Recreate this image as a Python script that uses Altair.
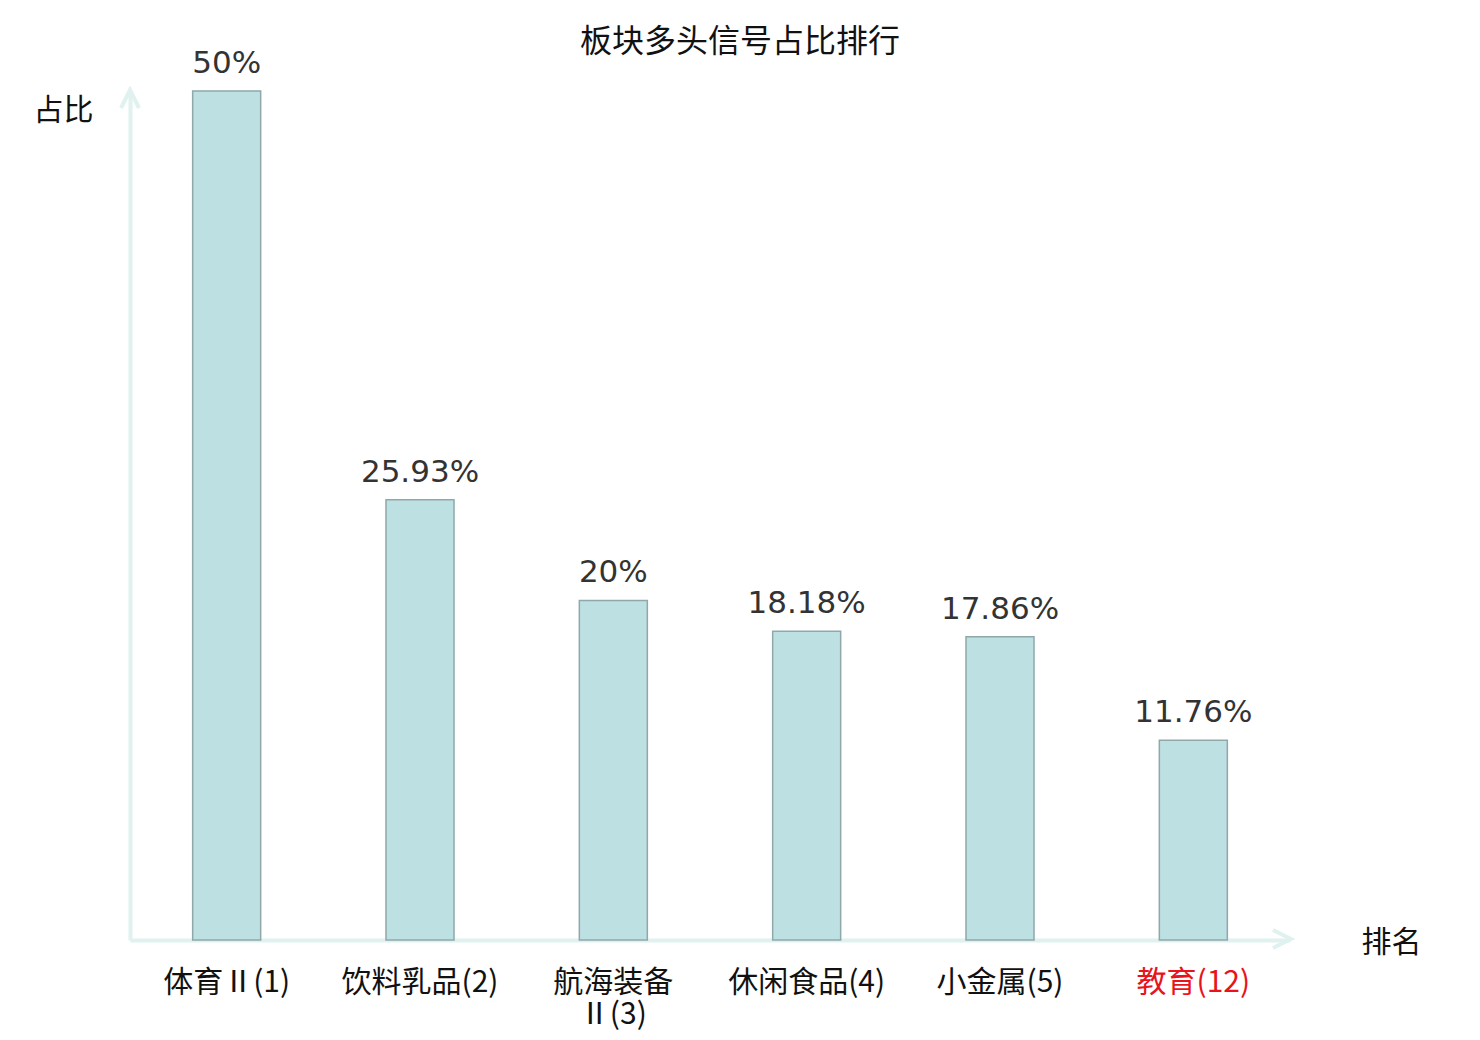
import altair as alt
import pandas as pd

categories = ["体育Ⅱ(1)", "饮料乳品(2)", "航海装备\nⅡ(3)", "休闲食品(4)", "小金属(5)", "教育(12)"]
values = [50, 25.93, 20, 18.18, 17.86, 11.76]
value_labels = ["50%", "25.93%", "20%", "18.18%", "17.86%", "11.76%"]
highlight = "教育(12)"

df = pd.DataFrame({"cat": categories, "val": values, "lab": value_labels})

AXIS_COLOR = "#dff2ef"
CJK = "Noto Sans CJK SC"

W, H = 1160, 849

x_enc = alt.X(
    "cat:N",
    sort=None,
    scale=alt.Scale(paddingInner=0, paddingOuter=0),
    axis=alt.Axis(
        title="排名",
        titleFont=CJK,
        titleFontSize=30,
        titleFontWeight="normal",
        titleColor="#111111",
        titleAngle=0,
        titleAlign="center",
        titleBaseline="middle",
        titleX=1261,
        titleY=2,
        labelFont=CJK,
        labelFontSize=30,
        labelLineHeight=32,
        labelAngle=0,
        labelPadding=27,
        labelExpr="split(datum.label, '\\n')",
        labelColor=alt.condition(f"datum.value == '{highlight}'", alt.value("#e8141c"), alt.value("#111111")),
        ticks=False,
        domainColor=AXIS_COLOR,
        domainWidth=4,
        grid=False,
    ),
)

y_enc = alt.Y(
    "val:Q",
    scale=alt.Scale(domain=[0, 50], nice=False, zero=True),
    axis=alt.Axis(
        title="占比",
        titleFont=CJK,
        titleFontSize=30,
        titleFontWeight="normal",
        titleColor="#111111",
        titleAngle=0,
        titleAlign="center",
        titleBaseline="middle",
        titleX=-67,
        titleY=19,
        labels=False,
        ticks=False,
        grid=False,
        domainColor=AXIS_COLOR,
        domainWidth=4,
    ),
)

base = alt.Chart(df)

bars = base.mark_bar(width=68, fill="#bde0e3", stroke="#8fa8a9", strokeWidth=1.5).encode(
    x=x_enc, y=y_enc
)

texts = base.mark_text(
    font="DejaVu Sans", fontSize=31, color="#333333", baseline="alphabetic", dy=-18
).encode(x=alt.X("cat:N", sort=None), y="val:Q", text="lab:N")

one = alt.Data(values=[{"a": 1}])

up_arrow = alt.Chart(one).mark_point(
    shape="M -0.9 1.8 L 0 0 L 0.9 1.8",
    size=400,
    filled=False,
    stroke=AXIS_COLOR,
    strokeWidth=4,
    opacity=1,
).encode(x=alt.value(0), y=alt.value(-1))

right_arrow = alt.Chart(one).mark_point(
    shape="M -1.8 -0.9 L 0 0 L -1.8 0.9",
    size=400,
    filled=False,
    stroke=AXIS_COLOR,
    strokeWidth=4,
    opacity=1,
).encode(x=alt.value(W + 1), y=alt.value(H - 1))

chart = (
    alt.layer(bars, texts, up_arrow, right_arrow)
    .properties(
        width=W,
        height=H,
        background="white",
        title=alt.TitleParams(
            "板块多头信号占比排行",
            font=CJK,
            fontSize=32,
            fontWeight="normal",
            color="#111111",
            anchor="middle",
            dx=30,
            offset=-11,
        ),
        autosize=alt.AutoSizeParams(type="none"),
        padding={"left": 122, "top": 83, "right": 170, "bottom": 92},
    )
    .configure_view(strokeWidth=0, stroke="transparent")
)

chart.save("out.html", embed_options={"renderer": "svg", "actions": False})
